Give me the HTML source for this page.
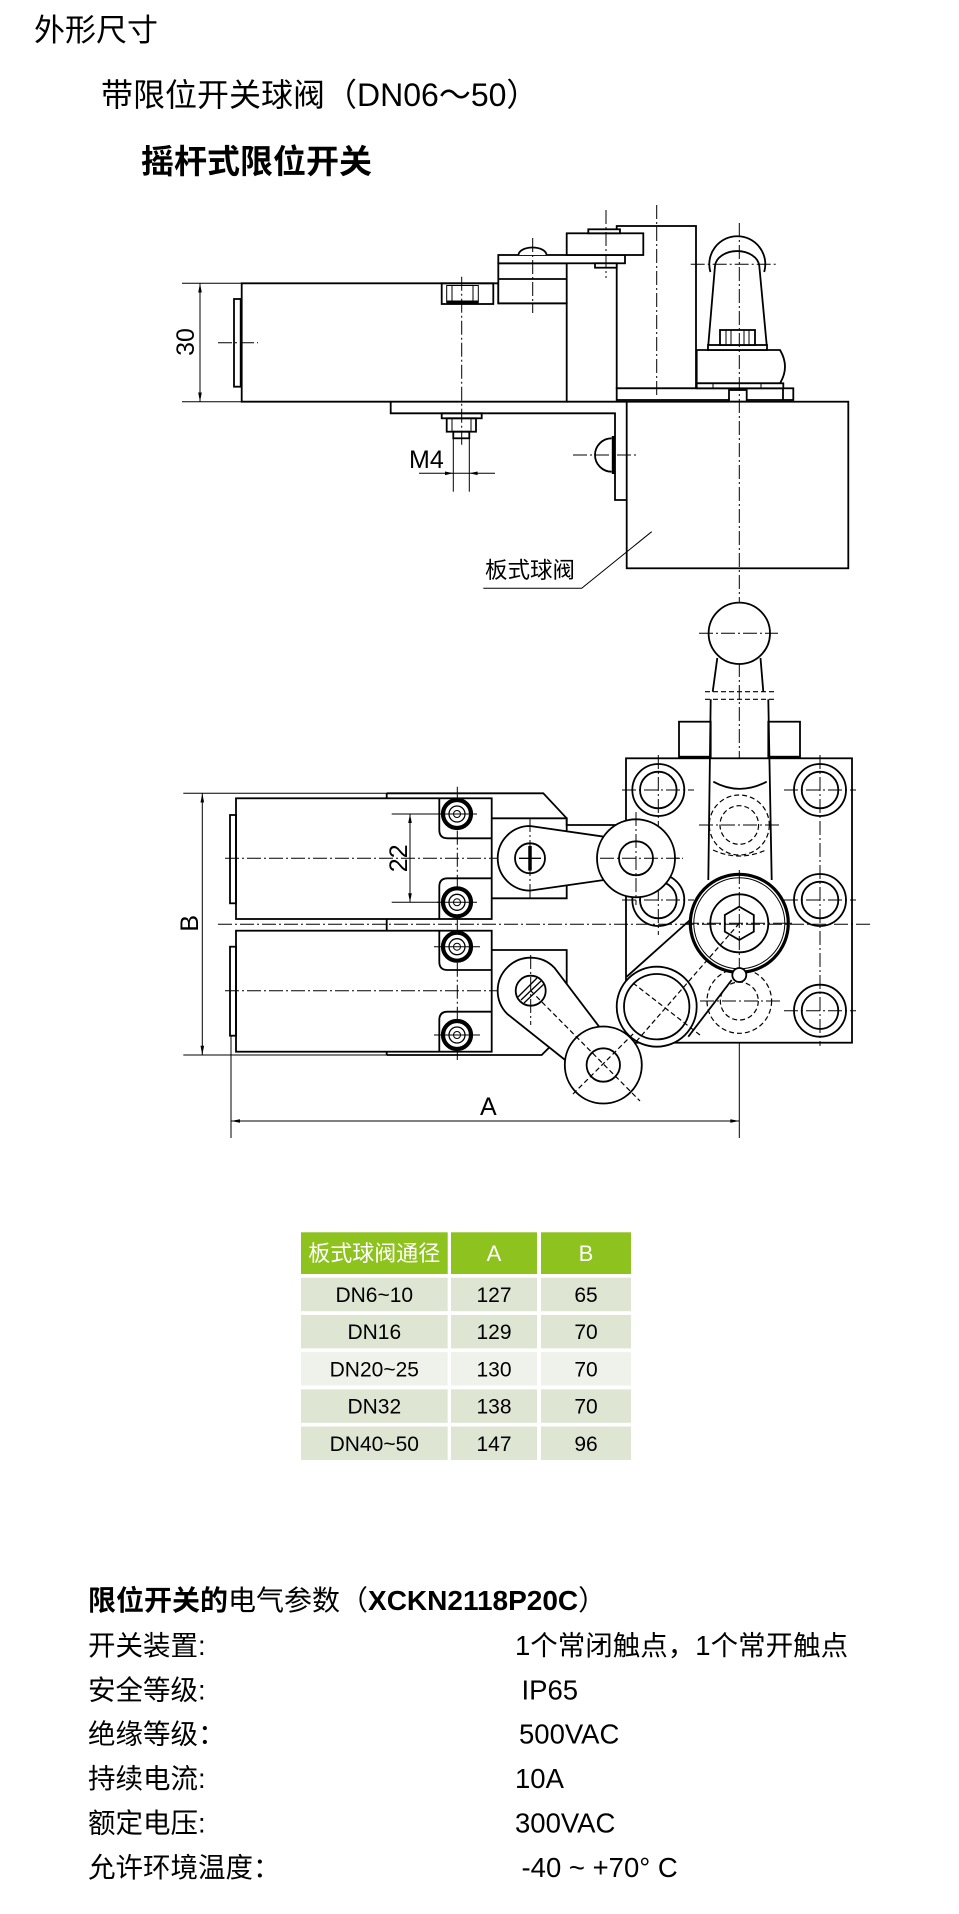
<!DOCTYPE html>
<html><head><meta charset="utf-8">
<style>
html,body{margin:0;padding:0;background:#fff;}
svg{display:block;}
text{font-family:"Liberation Sans","Noto Sans CJK SC",sans-serif;fill:#000;}
.o{fill:none;stroke:#000;stroke-width:1.8;}
.w{fill:#fff;stroke:#000;stroke-width:1.8;}
.t{fill:none;stroke:#000;stroke-width:1;}
.c{fill:none;stroke:#000;stroke-width:1;stroke-dasharray:14 3 2 3;}
.d{fill:none;stroke:#000;stroke-width:1.2;stroke-dasharray:5 3;}
</style></head><body>
<svg width="959" height="1914" viewBox="0 0 959 1914" xmlns="http://www.w3.org/2000/svg">
<rect x="0" y="0" width="959" height="1914" fill="#fff"/>

<!-- Titles -->
<text x="34" y="41" font-size="31">外形尺寸</text>
<text x="101" y="106" font-size="32">带限位开关球阀（DN06～50）</text>
<text x="141" y="173" font-size="33" font-weight="bold">摇杆式限位开关</text>

<!-- ================= TOP DRAWING ================= -->
<!-- 30 dimension -->
<line class="t" x1="182" y1="283.3" x2="241.7" y2="283.3"/>
<line class="t" x1="182" y1="401.7" x2="241.7" y2="401.7"/>
<line class="t" x1="200" y1="283.3" x2="200" y2="401.7"/>
<polygon points="200,283.3 198.2,292.5 201.8,292.5"/>
<polygon points="200,401.7 198.2,392.5 201.8,392.5"/>
<text transform="translate(194,342) rotate(-90)" font-size="25" text-anchor="middle">30</text>

<!-- housing (tall) -->
<rect class="w" x="616.7" y="226" width="79.3" height="162.3"/>
<!-- base plate -->
<rect class="w" x="616.7" y="388.3" width="176.6" height="11.7"/>
<rect class="w" x="729" y="390" width="17.7" height="11.7"/>
<line class="o" x1="783" y1="388.3" x2="783" y2="400"/>

<!-- switch body -->
<path class="w" d="M241.7,283.3 H498.3 V303.3 H566.7 V401.7 H241.7 Z"/>
<rect class="o" x="234" y="299" width="6.7" height="87.7" stroke-width="2.2"/>
<line class="c" x1="218" y1="342.7" x2="258" y2="342.7"/>
<!-- nut pocket -->
<rect class="o" x="441.7" y="283.3" width="51.6" height="20.7"/>
<rect class="t" x="446.7" y="285.5" width="31.6" height="17"/>
<line class="t" x1="452" y1="285.5" x2="452" y2="302"/>
<line class="t" x1="473" y1="285.5" x2="473" y2="302"/>
<line x1="447" y1="302" x2="478" y2="302" stroke="#000" stroke-width="3"/>

<!-- block B -->
<rect class="w" x="498.3" y="263.3" width="68.4" height="40"/>
<line class="o" x1="498.3" y1="279" x2="566.7" y2="279"/>
<!-- lever arm -->
<rect class="w" x="498.3" y="255" width="126.7" height="8.3"/>
<path class="w" d="M518.5,255 A14,7.5 0 0 1 546.5,255"/>
<!-- roller block -->
<rect class="w" x="566.7" y="233.3" width="76.6" height="21.7"/>
<rect class="w" x="588.3" y="229.3" width="31.7" height="4" stroke-width="2.2"/>
<rect class="w" x="595" y="263.3" width="21.7" height="4.4"/>

<!-- bracket -->
<path class="o" d="M566.7,401.7 H626.7 M390.7,401.7 V413.3 H615 V500 H626.7"/>
<!-- bolt under bracket -->
<rect class="o" x="441.7" y="413.3" width="40" height="5"/>
<rect class="o" x="446.7" y="418.3" width="29.3" height="13.4"/>
<line class="t" x1="452" y1="418.3" x2="452" y2="431.7"/>
<line class="t" x1="471" y1="418.3" x2="471" y2="431.7"/>
<rect class="o" x="453.3" y="431.7" width="16" height="6.6"/>
<!-- M4 dim -->
<line class="t" x1="453.3" y1="438" x2="453.3" y2="491.7"/>
<line class="t" x1="469.3" y1="438" x2="469.3" y2="491.7"/>
<line class="t" x1="419" y1="473.3" x2="495" y2="473.3"/>
<polygon points="453.3,473.3 445,471.5 445,475.1"/>
<polygon points="469.3,473.3 477.6,471.5 477.6,475.1"/>
<text x="409" y="468" font-size="25">M4</text>
<line class="c" x1="461.7" y1="276.7" x2="461.7" y2="445"/>

<!-- actuator head -->
<path class="w" d="M696.7,350 H780 Q790,366.7 780,383.3 H696.7 Z"/>
<rect class="w" x="696.7" y="383.3" width="86.6" height="5"/>
<line class="t" x1="713" y1="383.3" x2="713" y2="388.3"/>
<line class="t" x1="761" y1="383.3" x2="761" y2="388.3"/>
<rect class="w" x="708" y="345" width="59" height="5"/>
<path class="o" d="M708.3,345 L715,266 M766.7,345 L759.3,266"/>
<path class="o" d="M715,266 A22.2,16 0 0 1 759.3,266"/>
<path class="o" d="M710.4,272 A28,28 0 1 1 764.2,272"/>
<rect class="w" x="720" y="330" width="35" height="15"/>
<line class="t" x1="726" y1="330" x2="726" y2="345"/>
<line class="t" x1="731" y1="330" x2="731" y2="345"/>
<line class="t" x1="744" y1="330" x2="744" y2="345"/>
<line class="t" x1="749" y1="330" x2="749" y2="345"/>

<!-- valve box -->
<rect class="w" x="626.7" y="401.7" width="221.6" height="166.6"/>
<!-- dome on bracket -->
<path class="w" d="M611.7,438.3 A16.7,16.7 0 0 0 611.7,471.7"/>
<line x1="613.3" y1="436" x2="613.3" y2="474" stroke="#000" stroke-width="3"/>
<line class="c" x1="573" y1="455" x2="637" y2="455"/>

<!-- center lines top -->
<line class="c" x1="532.7" y1="238" x2="532.7" y2="313"/>
<line class="c" x1="606" y1="210" x2="606" y2="278"/>
<line class="c" x1="656.7" y1="205" x2="656.7" y2="395"/>
<line class="c" x1="690.7" y1="264.3" x2="778.3" y2="264.3"/>

<!-- leader -->
<path class="t" d="M651.7,531.7 L581.7,588.3 H483.3"/>
<text x="485" y="578" font-size="22.5">板式球阀</text>

<!-- ================= BOTTOM DRAWING ================= -->
<!-- long vertical center line -->
<line class="c" x1="739.3" y1="223" x2="739.3" y2="1040"/>
<line class="t" x1="739.3" y1="1040" x2="739.3" y2="1138"/>

<!-- B dimension -->
<line class="t" x1="183.3" y1="793.3" x2="386.7" y2="793.3"/>
<line class="t" x1="183.3" y1="1055" x2="386.7" y2="1055"/>
<line class="t" x1="202.3" y1="793.3" x2="202.3" y2="1055"/>
<polygon points="202.3,793.3 200.5,802.5 204.1,802.5"/>
<polygon points="202.3,1055 200.5,1045.8 204.1,1045.8"/>
<text transform="translate(198,923.3) rotate(-90)" font-size="25" text-anchor="middle">B</text>

<!-- valve body bottom view -->
<rect class="w" x="626" y="758.3" width="226" height="284.4"/>
<!-- side bumps -->
<rect class="w" x="679" y="721.7" width="31.7" height="35" stroke-width="2.2"/>
<rect class="w" x="768.3" y="721.7" width="31.7" height="35" stroke-width="2.2"/>

<!-- holes -->
<g class="o">
<circle cx="658.3" cy="790" r="26"/><circle cx="658.3" cy="790" r="18.3"/>
<circle cx="820" cy="790" r="26"/><circle cx="820" cy="790" r="18.3"/>
<circle cx="820" cy="900" r="26"/><circle cx="820" cy="900" r="18.3"/>
<circle cx="658.3" cy="900" r="26"/><circle cx="658.3" cy="900" r="18.3"/>
<circle cx="820" cy="1010.7" r="26"/><circle cx="820" cy="1010.7" r="18.3"/>
</g>
<g class="c">
<line x1="622" y1="790" x2="694" y2="790"/>
<line x1="784" y1="790" x2="856" y2="790"/>
<line x1="784" y1="900" x2="856" y2="900"/>
<line x1="622" y1="900" x2="694" y2="900"/>
<line x1="784" y1="1010.7" x2="856" y2="1010.7"/>
<line x1="820" y1="755" x2="820" y2="1046"/>
<line x1="658.3" y1="755" x2="658.3" y2="935"/>
</g>

<!-- top handle -->
<circle class="w" cx="739.3" cy="633.3" r="30.7"/>
<path class="o" d="M717.3,658 L712.7,691.7 M760.5,658 L763.3,691.7"/>
<line class="d" x1="705" y1="691.7" x2="776.7" y2="691.7"/>
<line class="d" x1="705" y1="699.3" x2="776.7" y2="699.3"/>
<path class="o" d="M710.7,699.3 L708.3,880 M768.3,699.3 L771.7,880"/>
<line class="c" x1="699" y1="633.3" x2="778" y2="633.3"/>

<!-- valve center dashed -->
<circle class="d" cx="739.3" cy="825" r="19.3"/>
<circle class="d" cx="739.3" cy="825" r="30"/>
<path class="o" d="M713.3,781.7 Q739.3,796 766.7,781.7"/>
<path class="d" d="M713,850 Q739.3,862 766,850"/>
<line class="c" x1="699" y1="825" x2="780" y2="825"/>

<!-- lower dashed circles & bump -->
<circle class="d" cx="739.3" cy="1001" r="32.3"/>
<circle class="d" cx="739.3" cy="1001" r="19"/>
<line class="c" x1="700" y1="1001" x2="780" y2="1001"/>

<!-- big wheel -->
<circle cx="739.3" cy="923.3" r="49" fill="#fff" stroke="#000" stroke-width="3.2"/>
<circle class="t" cx="739.3" cy="923.3" r="45.5" stroke-width="1.4"/>
<circle class="o" cx="739.3" cy="923.3" r="29"/>
<polygon class="o" points="739.3,906.6 753.8,915 753.8,931.6 739.3,940 724.8,931.6 724.8,915"/>
<line class="c" x1="685" y1="923.3" x2="795" y2="923.3"/>
<line class="c" x1="739.3" y1="870" x2="739.3" y2="975"/>
<circle class="w" cx="739.3" cy="975" r="7"/>

<!-- second wheel linkage -->
<path class="o" d="M690,920 L626.7,976.7"/>
<path class="o" d="M731.7,980 L688.3,1036.7"/>
<circle class="w" cx="656.7" cy="1006.7" r="40"/>
<circle class="o" cx="656.7" cy="1006.7" r="32.7"/>
<line class="d" x1="739.3" y1="923.3" x2="623" y2="1056.7"/>
<line class="d" x1="633" y1="983" x2="700" y2="1035"/>

<!-- middle center line -->
<line class="c" x1="218" y1="924.3" x2="870" y2="924.3"/>

<!-- plate outline -->
<path class="o" d="M386.7,793.3 H543.3 L566.7,818.3 V825 H626"/>
<path class="o" d="M386.7,793.3 V798.3 M386.7,919 V930.7 M386.7,1055 V1050"/>
<path class="o" d="M386.7,1055 H541.7 L550,1046.7"/>
<!-- head blocks -->
<path class="o" d="M491.7,818.3 H566.7 V898.3 H491.7"/>
<path class="o" d="M491.7,950 H566.7 V1026.7"/>

<!-- switch bodies -->
<rect class="w" x="236" y="798.3" width="255.7" height="120.7"/>
<rect class="w" x="236" y="930.7" width="255.7" height="121"/>
<rect class="o" x="230" y="815" width="6" height="88.3" stroke-width="2.2"/>
<rect class="o" x="230" y="946.7" width="6" height="89" stroke-width="2.2"/>
<!-- pockets -->
<path class="o" d="M439.3,798.3 V830 Q439.3,838.3 447.6,838.3 H491.7"/>
<path class="o" d="M491.7,878.3 H447.6 Q439.3,878.3 439.3,886.6 V919"/>
<path class="o" d="M439.3,930.7 V961.7 Q439.3,970 447.6,970 H491.7"/>
<path class="o" d="M491.7,1011.7 H447.6 Q439.3,1011.7 439.3,1020 V1051.7"/>

<!-- center lines bodies -->
<line class="c" x1="225" y1="858.3" x2="683" y2="858.3"/>
<line class="c" x1="225" y1="990.7" x2="560" y2="990.7"/>
<line class="c" x1="457.3" y1="786.7" x2="457.3" y2="1060"/>

<!-- screws -->
<g>
<circle cx="457" cy="814" r="14" fill="#fff" stroke="#000" stroke-width="4.2"/>
<circle cx="457" cy="814" r="8" fill="none" stroke="#000" stroke-width="1.3"/>
<circle cx="457" cy="814" r="3.5" fill="none" stroke="#000" stroke-width="1"/>
<circle cx="457" cy="902.3" r="14" fill="#fff" stroke="#000" stroke-width="4.2"/>
<circle cx="457" cy="902.3" r="8" fill="none" stroke="#000" stroke-width="1.3"/>
<circle cx="457" cy="902.3" r="3.5" fill="none" stroke="#000" stroke-width="1"/>
<circle cx="457" cy="946.7" r="14" fill="#fff" stroke="#000" stroke-width="4.2"/>
<circle cx="457" cy="946.7" r="8" fill="none" stroke="#000" stroke-width="1.3"/>
<circle cx="457" cy="946.7" r="3.5" fill="none" stroke="#000" stroke-width="1"/>
<circle cx="457" cy="1035" r="14" fill="#fff" stroke="#000" stroke-width="4.2"/>
<circle cx="457" cy="1035" r="8" fill="none" stroke="#000" stroke-width="1.3"/>
<circle cx="457" cy="1035" r="3.5" fill="none" stroke="#000" stroke-width="1"/>
</g>
<g class="t">
<line x1="437" y1="814" x2="477" y2="814"/>
<line x1="437" y1="902.3" x2="477" y2="902.3"/>
<line x1="434" y1="946.7" x2="480" y2="946.7"/>
<line x1="434" y1="1035" x2="480" y2="1035"/>
</g>

<!-- 22 dimension -->
<line class="t" x1="391.7" y1="814" x2="440" y2="814"/>
<line class="t" x1="391.7" y1="902.3" x2="440" y2="902.3"/>
<line class="t" x1="410" y1="814" x2="410" y2="902.3"/>
<polygon points="410,814 408.2,823 411.8,823"/>
<polygon points="410,902.3 408.2,893.3 411.8,893.3"/>
<text transform="translate(407,858.3) rotate(-90)" font-size="25" text-anchor="middle">22</text>

<!-- upper lever -->
<path class="w" d="M530,826 L604,836.7 L604,880 L530,890.6 A32.3,32.3 0 0 1 530,826 Z"/>
<circle class="w" cx="636" cy="858.3" r="39"/>
<circle class="o" cx="636" cy="858.3" r="17"/>
<circle class="w" cx="530" cy="858.3" r="15"/>
<line x1="530" y1="846" x2="530" y2="870.6" stroke="#000" stroke-width="3.5"/>
<line x1="519" y1="858.3" x2="541" y2="858.3" stroke="#000" stroke-width="1.4"/>
<line class="c" x1="530" y1="818" x2="530" y2="898"/>
<line class="c" x1="636" y1="812" x2="636" y2="905"/>
<line class="c" x1="600" y1="858.3" x2="683" y2="858.3"/>

<!-- lower lever -->
<path class="w" d="M554.3,967.6 L617.6,1051 L589,1079 L507.1,1013.8 A33,33 0 0 1 554.3,967.6 Z"/>
<circle class="w" cx="603.3" cy="1065" r="38.5"/>
<circle class="o" cx="603.3" cy="1065" r="16.7"/>
<circle class="w" cx="530.7" cy="990.7" r="15"/>
<line x1="521" y1="1000" x2="541" y2="981" stroke="#000" stroke-width="1.3"/>
<line x1="524" y1="1003" x2="544" y2="984" stroke="#000" stroke-width="1.3"/>
<line x1="518" y1="997" x2="537" y2="978" stroke="#000" stroke-width="1.3"/>
<line class="c" x1="530.7" y1="955" x2="530.7" y2="1025"/>
<line class="d" x1="530.7" y1="990.7" x2="640" y2="1101"/>
<line class="d" x1="573" y1="1094" x2="635" y2="1032"/>

<!-- A dimension -->
<line class="t" x1="231" y1="1035.7" x2="231" y2="1138"/>
<line class="t" x1="231" y1="1121" x2="739.3" y2="1121"/>
<polygon points="231,1121 240,1119.2 240,1122.8"/>
<polygon points="739.3,1121 730.3,1119.2 730.3,1122.8"/>
<text x="480" y="1115" font-size="25">A</text>

<!-- ================= TABLE ================= -->
<g>
<rect x="301" y="1232.3" width="146.7" height="41.7" fill="#8DC21F"/>
<rect x="451" y="1232.3" width="86" height="41.7" fill="#8DC21F"/>
<rect x="541" y="1232.3" width="90" height="41.7" fill="#8DC21F"/>

<rect x="301" y="1277.7" width="146.7" height="33.5" fill="#DEE6D3"/>
<rect x="451" y="1277.7" width="86" height="33.5" fill="#DEE6D3"/>
<rect x="541" y="1277.7" width="90" height="33.5" fill="#DEE6D3"/>

<rect x="301" y="1314.9" width="146.7" height="33.5" fill="#DEE6D3"/>
<rect x="451" y="1314.9" width="86" height="33.5" fill="#DEE6D3"/>
<rect x="541" y="1314.9" width="90" height="33.5" fill="#DEE6D3"/>

<rect x="301" y="1352.1" width="146.7" height="33.5" fill="#EFF2EA"/>
<rect x="451" y="1352.1" width="86" height="33.5" fill="#EFF2EA"/>
<rect x="541" y="1352.1" width="90" height="33.5" fill="#EFF2EA"/>

<rect x="301" y="1389.3" width="146.7" height="33.5" fill="#DEE6D3"/>
<rect x="451" y="1389.3" width="86" height="33.5" fill="#DEE6D3"/>
<rect x="541" y="1389.3" width="90" height="33.5" fill="#DEE6D3"/>

<rect x="301" y="1426.5" width="146.7" height="33.5" fill="#DEE6D3"/>
<rect x="451" y="1426.5" width="86" height="33.5" fill="#DEE6D3"/>
<rect x="541" y="1426.5" width="90" height="33.5" fill="#DEE6D3"/>
</g>
<g text-anchor="middle" font-size="22">
<text x="374.3" y="1261" style="fill:#fff">板式球阀通径</text>
<text x="494" y="1261" style="fill:#fff">A</text>
<text x="586" y="1261" style="fill:#fff">B</text>
</g>
<g text-anchor="middle" font-size="21">
<text x="374.3" y="1302">DN6~10</text><text x="494" y="1302">127</text><text x="586" y="1302">65</text>
<text x="374.3" y="1339.2">DN16</text><text x="494" y="1339.2">129</text><text x="586" y="1339.2">70</text>
<text x="374.3" y="1376.4">DN20~25</text><text x="494" y="1376.4">130</text><text x="586" y="1376.4">70</text>
<text x="374.3" y="1413.6">DN32</text><text x="494" y="1413.6">138</text><text x="586" y="1413.6">70</text>
<text x="374.3" y="1450.8">DN40~50</text><text x="494" y="1450.8">147</text><text x="586" y="1450.8">96</text>
</g>

<!-- ================= ELECTRICAL PARAMS ================= -->
<text x="88" y="1610" font-size="28"><tspan font-weight="bold">限位开关的</tspan>电气参数（<tspan font-weight="bold">XCKN2118P20C</tspan>）</text>
<g font-size="27.5">
<text x="88" y="1655">开关装置:</text>
<text x="515" y="1655">1个常闭触点，1个常开触点</text>
<text x="88" y="1699.5">安全等级:</text>
<text x="521.5" y="1699.5">IP65</text>
<text x="88" y="1743.5">绝缘等级：</text>
<text x="519" y="1743.5">500VAC</text>
<text x="88" y="1788">持续电流:</text>
<text x="515" y="1788">10A</text>
<text x="88" y="1832.5">额定电压:</text>
<text x="515" y="1832.5">300VAC</text>
<text x="88" y="1877">允许环境温度：</text>
<text x="521.5" y="1877">-40 ~ +70° C</text>
</g>
</svg>
</body></html>
